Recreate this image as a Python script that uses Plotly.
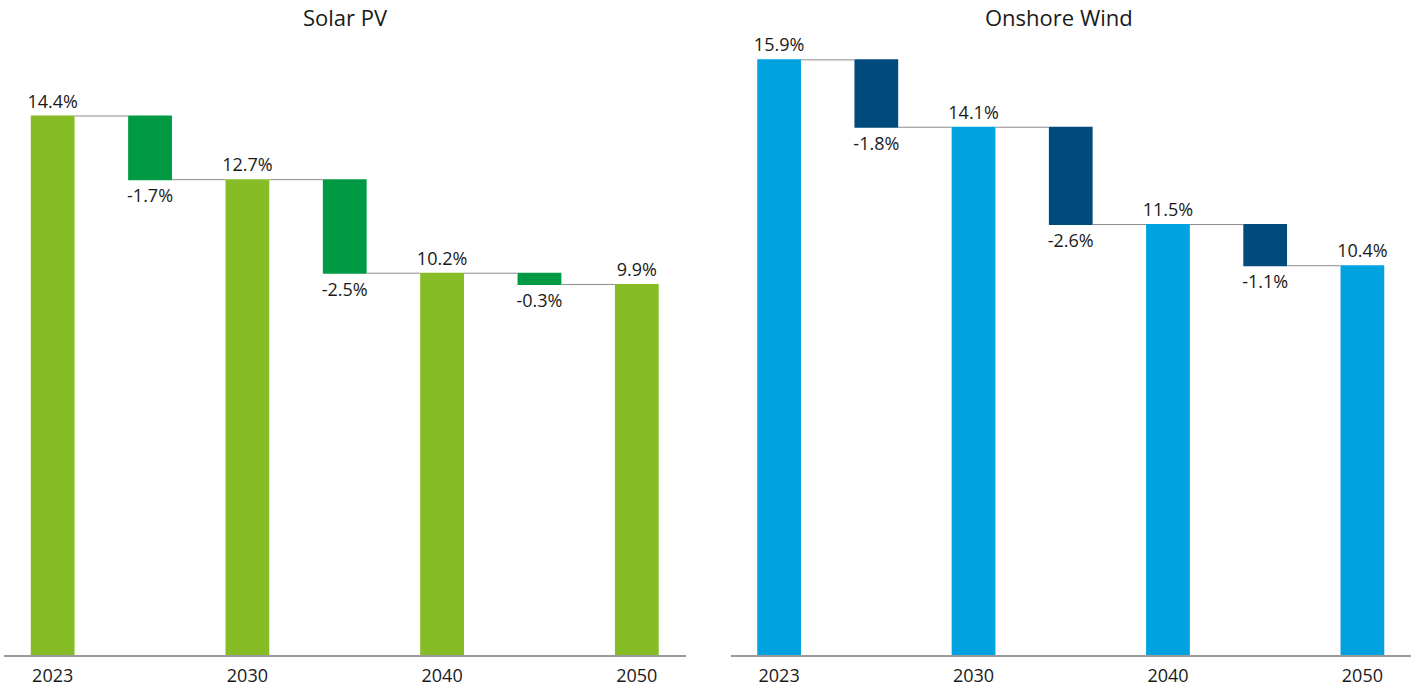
import plotly.graph_objects as go

positions = [0, 1, 2, 3, 4, 5, 6]
tick_positions = [0, 2, 4, 6]
tick_labels = ["2023", "2030", "2040", "2050"]
measures = ["absolute", "relative", "total", "relative", "total", "relative", "total"]

solar_values = [14.4, -1.7, 12.7, -2.5, 10.2, -0.3, 9.9]
wind_values = [15.9, -1.8, 14.1, -2.6, 11.5, -1.1, 10.4]

titles = ["Solar PV", "Onshore Wind"]

SOLAR_TOTAL = "#86BC25"
SOLAR_DEC = "#009A44"
WIND_TOTAL = "#00A3E0"
WIND_DEC = "#004A7C"
FONT = "Open Sans"
TEXT = "#1a1a1a"

W, H = 1415, 687
ML, MR, MT, MB = 4, 4, 22, 32
pw = W - ML - MR
ph = H - MT - MB
px_per_unit = 37.43
yrange = [0, ph / px_per_unit]

left_dom = [0.0, (685.5 - ML) / pw]
right_dom = [(730.5 - ML) / pw, 1.0]


def wf(vals, total_c, dec_c, xa, ya):
    return go.Waterfall(
        x=positions,
        y=[v if m != "total" else 0 for v, m in zip(vals, measures)],
        measure=measures,
        text=[f"{v:.1f}%" for v in vals],
        textposition="outside",
        constraintext="none",
        textfont=dict(family=FONT, size=18, color=TEXT),
        cliponaxis=False,
        totals=dict(marker=dict(color=total_c, line=dict(width=0))),
        decreasing=dict(marker=dict(color=dec_c, line=dict(width=0))),
        increasing=dict(marker=dict(color=dec_c, line=dict(width=0))),
        connector=dict(mode="between", line=dict(color="#8c8c8c", width=1)),
        xaxis=xa,
        yaxis=ya,
        showlegend=False,
        hoverinfo="skip",
    )


fig = go.Figure()
fig.add_trace(wf(solar_values, SOLAR_TOTAL, SOLAR_DEC, "x", "y"))
fig.add_trace(wf(wind_values, WIND_TOTAL, WIND_DEC, "x2", "y2"))

xcommon = dict(
    tickmode="array",
    tickvals=tick_positions,
    ticktext=tick_labels,
    range=[-0.5, 6.5],
    showline=True,
    linecolor="#9a9a9a",
    linewidth=2,
    ticks="",
    ticklabelstandoff=3,
    automargin=False,
    showgrid=False,
    zeroline=False,
    tickfont=dict(family=FONT, size=18, color=TEXT),
    fixedrange=True,
)
ycommon = dict(
    range=yrange,
    visible=False,
    showgrid=False,
    zeroline=False,
    fixedrange=True,
)

title_y = 1 + (MT - 17) / ph
fig.update_layout(
    width=W,
    height=H,
    margin=dict(l=ML, r=MR, t=MT, b=MB, autoexpand=False),
    paper_bgcolor="white",
    plot_bgcolor="white",
    waterfallgap=0.55,
    font=dict(family=FONT, color=TEXT),
    xaxis=dict(domain=left_dom, anchor="y", **xcommon),
    yaxis=dict(domain=[0, 1], anchor="x", **ycommon),
    xaxis2=dict(domain=right_dom, anchor="y2", **xcommon),
    yaxis2=dict(domain=[0, 1], anchor="x2", **ycommon),
    annotations=[
        dict(text=titles[0], x=(345 - ML) / pw, y=title_y, xref="paper", yref="paper",
             xanchor="center", yanchor="middle",
             showarrow=False, font=dict(family=FONT, size=22, color=TEXT)),
        dict(text=titles[1], x=(1059 - ML) / pw, y=title_y, xref="paper", yref="paper",
             xanchor="center", yanchor="middle",
             showarrow=False, font=dict(family=FONT, size=22, color=TEXT)),
    ],
)

fig.write_html(
    "out.html",
    include_plotlyjs=True,
    config={"displayModeBar": False},
    post_script="document.body.style.margin='0';document.body.style.overflow='hidden';",
)
